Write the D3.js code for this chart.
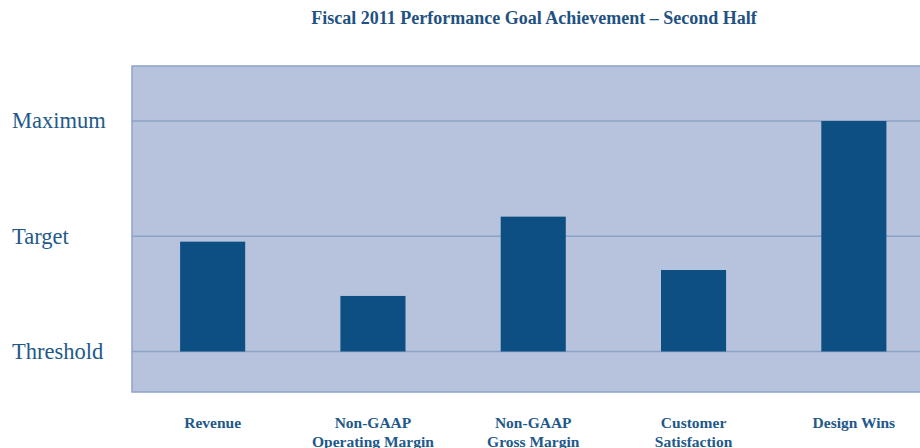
<!DOCTYPE html>
<html><head><meta charset="utf-8">
<script src="https://cdn.jsdelivr.net/npm/d3@7"></script>
<style>html,body{margin:0;padding:0;background:#fff;}svg{display:block;}</style>
</head><body>
<svg id="c" width="920" height="448"></svg>
<script>
const title = "Fiscal 2011 Performance Goal Achievement \u2013 Second Half";
const categories = [["Revenue"],["Non-GAAP","Operating Margin"],["Non-GAAP","Gross Margin"],["Customer","Satisfaction"],["Design Wins"]];
const values = [0.953, 0.482, 1.170, 0.707, 2.0];
const tickValues = [0, 1, 2];
const tickLabels = ["Threshold", "Target", "Maximum"];

const svg = d3.select("#c");
const plot = {left: 132, top: 66, right: 940, bottom: 392};

const y = d3.scaleLinear().domain([0, 2]).range([351.5, 121]);
const x = d3.scaleBand().domain(d3.range(categories.length))
  .range([132.5, 934]).paddingInner(0.594).paddingOuter(0.297);

svg.append("rect").attr("x", plot.left).attr("y", plot.top)
  .attr("width", plot.right - plot.left).attr("height", plot.bottom - plot.top)
  .attr("fill", "#b7c3dc").attr("stroke", "#8fa3c8").attr("stroke-width", 1.5);

svg.append("g").selectAll("line").data(tickValues).join("line")
  .attr("x1", plot.left).attr("x2", plot.right)
  .attr("y1", d => y(d)).attr("y2", d => y(d))
  .attr("stroke", "#8ca2c6").attr("stroke-width", 1.5);

svg.append("g").selectAll("rect").data(values).join("rect")
  .attr("x", (d, i) => x(i)).attr("width", x.bandwidth())
  .attr("y", d => y(d)).attr("height", d => y(0) - y(d))
  .attr("fill", "#0d4f82");

const axis = d3.axisLeft(y).tickValues(tickValues).tickFormat((d, i) => tickLabels[i]).tickSize(0);
const ag = svg.append("g").attr("transform", "translate(12,0)").call(axis);
ag.select(".domain").remove();
ag.selectAll("text").attr("text-anchor", "start").attr("x", 0).attr("dy", "0.3em")
  .attr("font-family", "Liberation Serif, Times New Roman, serif").attr("font-size", 22.5)
  .attr("fill", "#22598a");

svg.append("text").attr("x", 534).attr("y", 24).attr("text-anchor", "middle")
  .attr("font-family", "Liberation Serif, Times New Roman, serif").attr("font-weight", "bold")
  .attr("font-size", 18).attr("fill", "#1f5282").text(title);

const lg = svg.append("g").selectAll("text").data(categories).join("text")
  .attr("x", (d, i) => x(i) + x.bandwidth() / 2).attr("y", 428)
  .attr("text-anchor", "middle")
  .attr("font-family", "Liberation Serif, Times New Roman, serif").attr("font-weight", "bold")
  .attr("font-size", 15.5).attr("fill", "#22598a");
lg.selectAll("tspan").data(d => d).join("tspan")
  .attr("x", function() { return this.parentNode.getAttribute("x"); })
  .attr("dy", (d, i) => i === 0 ? 0 : 19).text(d => d);
</script>
</body></html>
